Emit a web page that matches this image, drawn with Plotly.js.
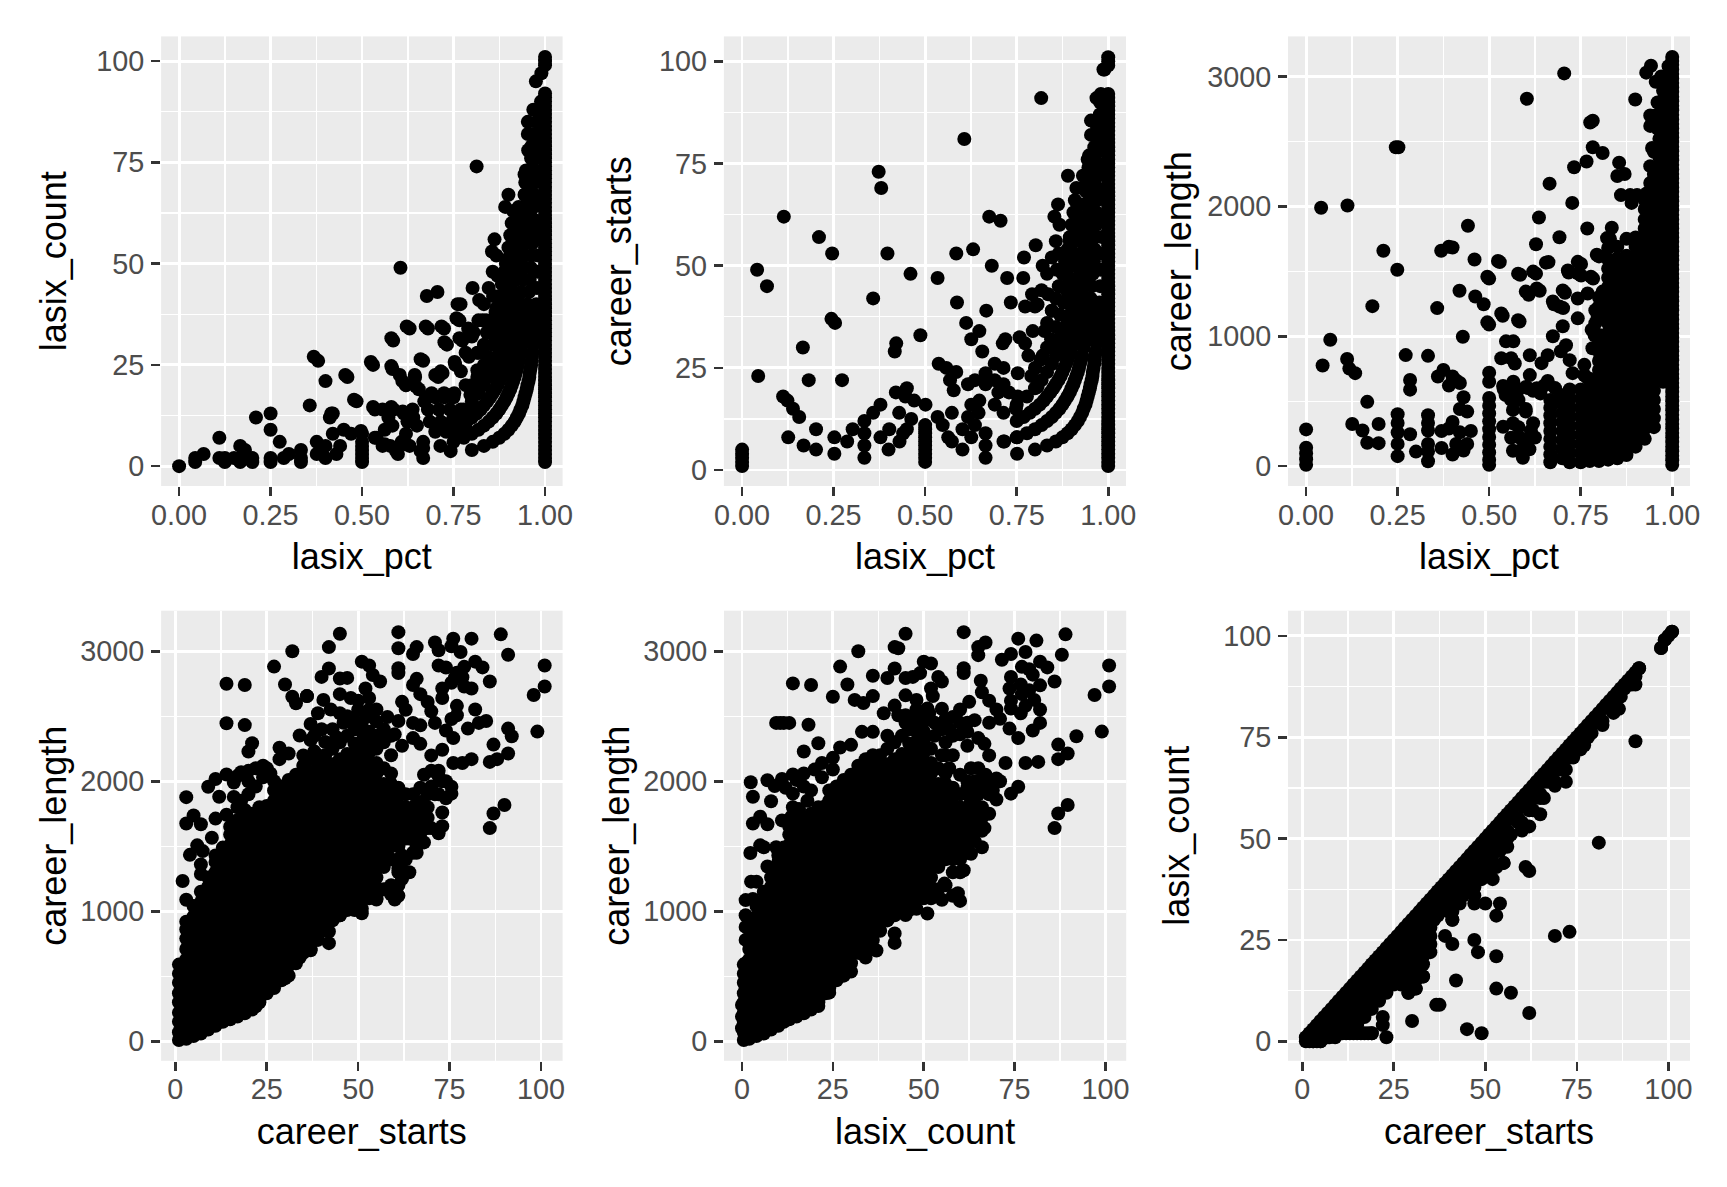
<!DOCTYPE html>
<html><head><meta charset="utf-8">
<script src="https://cdn.plot.ly/plotly-3.0.1.min.js"></script>
<style>html,body{margin:0;padding:0;background:#fff}#chart{width:1727px;height:1187px}</style>
</head><body><div id="chart"></div>
<script>
// ---- values shared by the pct/count/starts panels: [count, starts, pct]
const band1=[[4,5,.8],[5,6,.833],[6,7,.857],[7,8,.875],[8,9,.889],[9,10,.9],[10,11,.909],[11,12,.917],[12,13,.923],[13,14,.929],[14,15,.933],[15,16,.938],[16,17,.941],[17,18,.944],[18,19,.947],[19,20,.95],[20,21,.952],[21,22,.955],[22,23,.957],[23,24,.958],[24,25,.96],[25,26,.962],[26,27,.963],[27,28,.964],[28,29,.966],[30,31,.968],[32,33,.97],[34,35,.971],[36,37,.973],[38,39,.974],[40,41,.976],[44,45,.978],[48,49,.98],[52,53,.981],[56,57,.983],[60,61,.984],[66,67,.985],[72,73,.986],[78,79,.987],[84,85,.988],[90,91,.989],[97,98,.99]];
const band2=[[5,7,.714],[6,8,.75],[7,9,.778],[8,10,.8],[9,11,.818],[10,12,.833],[11,13,.846],[12,14,.857],[13,15,.867],[14,16,.875],[15,17,.882],[16,18,.889],[17,19,.895],[18,20,.9],[19,21,.905],[20,22,.909],[21,23,.913],[22,24,.917],[23,25,.92],[24,26,.923],[25,27,.926],[26,28,.929],[28,30,.933],[30,32,.938],[32,34,.941],[34,36,.944],[36,38,.947],[38,40,.95],[40,42,.952],[43,45,.956],[46,48,.958],[49,51,.961],[52,54,.963],[55,57,.965],[58,60,.967],[61,63,.968],[64,66,.97],[67,69,.971],[70,72,.972],[73,75,.973],[76,78,.974],[79,81,.975],[82,84,.976],[85,87,.977],[88,90,.978]];
const band3=[[9,12,.75],[10,13,.769],[11,14,.786],[12,15,.8],[13,16,.813],[14,17,.824],[15,18,.833],[16,19,.842],[17,20,.85],[18,21,.857],[19,22,.864],[20,23,.87],[21,24,.875],[22,25,.88],[23,26,.885],[24,27,.889],[25,28,.893],[26,29,.897],[27,30,.9],[29,32,.906],[31,34,.912],[33,36,.917],[35,38,.921],[37,40,.925],[40,43,.93],[43,46,.935],[46,49,.939],[49,52,.942],[52,55,.945],[55,58,.948],[58,61,.951],[61,64,.953],[64,67,.955],[67,70,.957],[70,73,.959],[73,76,.961],[76,79,.962],[79,82,.963],[82,85,.965]];
const band4=[[12,16,.75],[14,18,.778],[16,20,.8],[18,22,.818],[20,24,.833],[22,26,.846],[24,28,.857],[26,30,.867],[28,32,.875],[30,34,.882],[32,36,.889],[34,38,.895],[36,40,.9],[38,42,.905],[40,44,.909],[43,47,.915],[46,50,.92],[49,53,.925],[52,56,.929],[55,59,.932],[58,62,.935],[61,65,.938],[64,68,.941],[67,71,.944],[70,74,.946],[73,77,.948]];
const band5=[[20,25,.8],[22,27,.815],[25,30,.833],[27,32,.844],[30,35,.857],[33,38,.868],[36,41,.878],[39,44,.886],[42,47,.894],[45,50,.9],[48,53,.906],[51,56,.911],[54,59,.915],[57,62,.919],[60,65,.923]];
const band6=[[30,36,.833],[33,39,.846],[36,42,.857],[39,45,.867],[42,48,.875],[45,51,.882],[48,54,.889],[51,57,.895],[54,60,.9],[57,63,.905],[60,66,.909],[63,69,.913]];
const band8=[[32,40,.8],[36,44,.818],[40,48,.833],[44,52,.846],[48,56,.857],[52,60,.867]];
const allStarters=[[1,1,1],[2,2,1],[3,3,1],[4,4,1],[5,5,1],[6,6,1],[7,7,1],[8,8,1],[9,9,1],[10,10,1],[11,11,1],[12,12,1],[13,13,1],[14,14,1],[15,15,1],[16,16,1],[17,17,1],[18,18,1],[19,19,1],[20,20,1],[21,21,1],[22,22,1],[23,23,1],[24,24,1],[25,25,1],[26,26,1],[27,27,1],[28,28,1],[29,29,1],[30,30,1],[31,31,1],[32,32,1],[33,33,1],[34,34,1],[35,35,1],[36,36,1],[37,37,1],[38,38,1],[39,39,1],[40,40,1],[41,41,1],[42,42,1],[43,43,1],[44,44,1],[45,45,1],[46,46,1],[47,47,1],[48,48,1],[49,49,1],[50,50,1],[51,51,1],[52,52,1],[53,53,1],[54,54,1],[55,55,1],[56,56,1],[57,57,1],[58,58,1],[59,59,1],[60,60,1],[61,61,1],[62,62,1],[63,63,1],[64,64,1],[65,65,1],[66,66,1],[67,67,1],[68,68,1],[69,69,1],[70,70,1],[71,71,1],[72,72,1],[73,73,1],[74,74,1],[75,75,1],[76,76,1],[77,77,1],[78,78,1],[79,79,1],[80,80,1],[81,81,1],[82,82,1],[83,83,1],[84,84,1],[85,85,1],[86,86,1],[87,87,1],[88,88,1],[89,89,1],[90,90,1],[91,91,1],[92,92,1],[99,99,1],[100,100,1],[101,101,1]];
// ---- panel 1: lasix_pct vs lasix_count, separate points [pct,count]
const pctCountPts=[[0,0],[.044,2],[.044,1],[.067,3],[.11,7],[.11,2],[.125,2],[.125,1],[.15,2],[.167,5],[.167,2],[.167,1],[.18,4],[.2,2],[.2,1],[.21,12],[.25,13],[.25,9],[.275,6],[.25,2],[.25,1],[.286,2],[.3,3],[.333,4],[.333,2],[.333,1],[.357,15],[.368,27],[.38,26],[.4,21],[.376,6],[.376,3],[.4,5],[.4,2],[.42,13],[.412,12],[.42,8],[.43,3],[.46,22],[.485,16],[.45,9],[.44,5],[.47,8],[.5,8],[.5,6],[.5,5],[.5,4],[.5,3],[.5,2],[.5,1],[.53,25],[.535,14],[.556,14],[.586,14],[.583,24],[.585,31],[.605,49],[.63,34],[.61,21],[.62,20],[.645,22],[.655,19],[.667,26],[.677,42],[.706,43],[.68,34],[.724,34],[.732,30],[.708,22],[.72,23],[.69,18],[.724,18],[.752,18],[.769,40],[.766,36],[.802,44],[.82,41],[.79,34],[.805,33],[.774,31],[.813,74],[.891,64],[.928,64],[.9,67],[.945,67],[.862,56],[.855,53],[.893,50],[.87,47],[.907,46],[.858,42],[.891,40],[.865,38],[.839,36],[.841,33],[.85,35],[.886,31],[.818,28],[.792,27],[.755,25],[.54,7],[.556,5],[.577,5],[.598,3],[.572,12],[.583,10],[.614,13],[.638,14],[.624,11],[.62,8],[.608,6],[.63,5],[.667,6],[.667,4.5],[.667,2],[.67,16],[.761,40],[.758,36.5],[.829,36],[.875,32],[.85,26],[.897,29],[.783,28],[.815,28],[.753,25.7],[.77,23.4],[.815,23.7],[.783,20],[.842,23.4],[.796,17.6],[.675,17],[.7,17],[.725,17],[.75,17],[.68,14],[.71,14],[.74,14],[.77,14],[.79,14],[.685,11],[.715,11],[.745,11],[.775,11],[.7,8.5],[.73,8.5],[.76,8.5],[.79,8.5],[.66,3.7],[.742,3.7],[.593,3.7],[.62,5.4],[.562,5.4],[.535,7],[.562,9],[.625,11],[.611,13.5],[.64,12],[.65,10],[.497,8.7],[.416,13],[.454,22.5],[.478,16.4],[.524,25.7],[.58,24.7],[.66,26.4],[.603,22.5],[.644,22.5],[.715,23.4],[.7,22.5],[.647,19.7],[.62,20],[.53,14.6],[.58,14.6],[.725,30.6],[.58,31.6],[.766,31.6],[.622,34.5],[.674,34.5],[.717,34.5],[.968,88],[.953,85],[.953,82],[.954,78],[.944,72],[.965,60],[.96,56],[.928,53],[.907,50],[.926,42],[.92,38],[.905,36],[.93,33],[.91,31],[.975,95]];
// ---- panel 2: lasix_pct vs career_starts, separate points [pct,starts]
const pctStartsPts=[[0,5],[0,4],[0,3],[0,2],[0,1],[.041,49],[.068,45],[.044,23],[.114,62],[.112,18],[.124,17],[.139,15],[.156,13],[.126,8],[.168,6],[.202,10],[.202,5],[.166,30],[.182,22],[.21,57],[.246,53],[.273,22],[.244,37],[.254,36],[.252,8],[.252,4],[.287,7],[.302,10],[.334,12],[.334,9],[.334,6],[.334,3],[.358,14],[.378,16],[.378,8],[.402,10],[.4,5],[.358,42],[.373,73],[.38,69],[.397,53],[.417,29],[.421,31],[.429,14],[.42,19],[.45,20],[.446,18],[.47,17],[.501,16],[.46,48],[.487,33],[.462,12.5],[.45,10],[.44,9],[.43,7],[.5,11],[.5,10],[.5,9],[.5,8],[.5,7],[.5,6],[.5,5],[.5,4],[.5,3],[.5,2],[.534,47],[.537,26],[.558,25],[.585,24],[.568,22],[.578,19.5],[.573,14],[.534,13],[.548,11],[.563,8],[.573,7],[.602,5],[.602,10],[.626,8],[.617,13],[.636,11],[.646,14],[.626,16],[.648,17],[.585,53],[.587,41],[.612,36],[.626,32],[.648,34],[.656,29],[.631,54],[.607,81],[.682,50],[.675,62],[.706,61],[.667,39],[.712,31],[.719,32],[.724,47],[.734,41],[.817,91],[.77,52],[.768,47],[.802,55],[.821,50],[.86,49],[.863,65],[.853,62],[.865,53],[.895,56],[.89,72],[.929,69],[.931,72],[.947,71],[.9,51],[.758,32.5],[.773,31],[.794,34],[.826,34],[.792,43],[.773,40],[.807,40.5],[.836,43],[.865,45],[.89,45],[.846,39],[.904,40],[.885,35],[.87,32.5],[.86,29],[.782,28],[.821,28],[.846,26],[.802,25],[.79,23],[.807,20.4],[.69,26],[.714,25],[.753,23.7],[.665,23.7],[.617,21],[.636,22],[.665,21],[.69,22],[.714,21],[.7,19],[.729,19],[.753,18],[.748,15],[.714,14],[.69,16],[.665,9],[.665,6],[.665,3],[.716,7],[.751,4],[.751,8],[.953,85.5],[.953,82],[.968,91],[.953,75.6],[.944,76],[.963,77.5],[.987,98],[.98,92],[.97,84],[.92,62],[.935,58],[.915,50],[.93,45],[.925,40],[.91,36],[.93,33]];
// ---- panel 3: lasix_pct vs career_length, separate points [pct,length]
const pctLengthPts=[[0,283],[0,141],[0,97],[0,53],[0,10],[.041,1989],[.113,2007],[.066,973],[.045,775],[.112,825],[.118,751],[.134,716],[.167,495],[.126,324],[.154,274],[.167,180],[.198,324],[.198,177],[.211,1659],[.181,1232],[.249,1512],[.245,2455],[.252,2455],[.272,855],[.284,663],[.284,589],[.284,245],[.3,112],[.25,400],[.25,333],[.25,259],[.25,171],[.25,77],[.333,849],[.333,392],[.333,333],[.333,274],[.333,171],[.333,112],[.333,38],[.358,1217],[.369,1659],[.39,1689],[.4,1683],[.419,1350],[.442,1851],[.46,1591],[.462,1306],[.485,1247],[.428,996],[.5,1090],[.5,1444],[.529,1571],[.537,1158],[.583,1114],[.585,1473],[.628,1482],[.628,1709],[.636,1915],[.603,2829],[.705,3024],[.665,2175],[.727,2027],[.692,1762],[.662,1571],[.608,1320],[.638,1350],[.707,1335],[.677,1247],[.702,1217],[.717,1491],[.751,1556],[.751,1468],[.784,1444],[.768,1830],[.8,1615],[.822,1756],[.835,1836],[.732,2302],[.766,2346],[.783,2455],[.81,2411],[.776,2646],[.783,2660],[.855,2337],[.85,2234],[.87,2249],[.86,2087],[.885,2087],[.904,2087],[.889,2027],[.899,2823],[.929,3030],[.942,3083],[.495,1458],[.579,1482],[.62,1498],[.715,1506],[.742,1573],[.742,1484],[.778,1458],[.794,1628],[.524,1580],[.655,1567],[.6,1344],[.63,1368],[.701,1353],[.674,1268],[.692,1229],[.742,1291],[.769,1329],[.81,1344],[.818,1268],[.533,1176],[.495,1107],[.579,1123],[.742,1138],[.796,1138],[.701,1077],[.674,1000],[.71,931],[.696,885],[.66,854],[.643,793],[.72,816],[.728,716],[.611,701],[.611,854],[.546,961],[.566,961],[.533,831],[.56,831],[.57,790],[.769,678],[.788,1008],[.782,908],[.804,831],[.538,617],[.566,650],[.606,601],[.66,655],[.68,601],[.696,548],[.545,548],[.565,433],[.6,440],[.5,720],[.5,650],[.5,525],[.5,465],[.5,405],[.5,345],[.5,285],[.5,225],[.5,165],[.5,105],[.5,50],[.5,10],[.538,303],[.56,218],[.565,119],[.592,65],[.614,272],[.625,220],[.584,218],[.565,330],[.667,510],[.667,450],[.667,390],[.667,330],[.667,270],[.667,210],[.667,150],[.667,90],[.667,30],[.7,480],[.7,410],[.7,340],[.7,270],[.7,200],[.7,130],[.7,60],[.62,580],[.64,560],[.36,690],[.375,740],[.39,620],[.4,690],[.41,660],[.42,640],[.43,530],[.42,440],[.44,420],[.4,340],[.37,270],[.39,290],[.42,260],[.45,270],[.37,140],[.4,90],[.43,120],[.44,170],[.41,170],[.54,590],[.56,510],[.58,590],[.6,610],[.63,600],[.65,620],[.56,600],[.58,510],[.6,420],[.62,330],[.6,200],[.61,130],[.58,300],[.59,130],[.76,700],[.76,780],[.79,1100],[.79,1200],[.8,1300],[.83,1750],[.78,1050]];
// ---- panels 4 and 5: columns shared through career_length
const denseStarts=[1,3,5,7,9,11,13,15,17,19,21,23,25,27,29,31,33,35,37,39,41,43,45,47,49,51,53,55,57,59,61,63,65,67,69];
const denseCounts=[.5,2,4,6,8,10,11.5,13,15,17,19,21,23,24,26,28,30,32,34,36,38,40,42,44,46,48,50,52,54,56,58,60,62,63,65];
const denseLengths=[
[10,70,150,220,300,370,450,520,590],
[20,90,170,250,320,400,480,560,630,710,790,860,920],
[40,110,190,270,350,430,510,590,660,740,810,890,960,1040],
[60,140,220,300,380,450,530,610,690,760,840,920,990,1070,1150],
[90,170,250,330,410,480,560,640,720,800,870,950,1030,1110,1190,1260],
[120,200,280,360,440,520,600,670,750,830,910,990,1070,1140,1220,1300,1380,1430],
[150,230,310,390,470,550,620,700,780,860,940,1020,1100,1170,1250,1330,1410,1490],
[170,250,330,410,490,570,650,730,800,880,960,1040,1120,1200,1280,1360,1430,1510,1590,1650],
[190,270,350,430,510,590,670,750,830,910,990,1070,1150,1230,1310,1390,1470,1550,1620,1700],
[215,290,370,450,530,610,690,770,850,930,1010,1090,1170,1250,1330,1410,1490,1570,1650,1720],
[245,320,400,480,560,640,720,800,880,960,1040,1120,1200,1280,1360,1440,1520,1600,1680,1750],
[300,375,455,535,615,695,775,855,935,1015,1095,1175,1255,1335,1415,1495,1575,1655,1735,1800],
[370,450,530,610,690,770,850,930,1010,1090,1170,1250,1330,1410,1490,1570,1650,1730,1810],
[410,490,570,650,730,810,890,970,1050,1130,1210,1290,1370,1450,1530,1610,1690,1770,1850,1930],
[470,550,630,710,790,870,950,1030,1110,1190,1270,1350,1430,1510,1590,1670,1750,1830,1910,1960],
[505,585,665,745,825,905,985,1065,1145,1225,1305,1385,1465,1545,1625,1705,1785,1865,1945,2010],
[600,680,760,840,920,1000,1080,1160,1240,1320,1400,1480,1560,1640,1720,1800,1880,1960,2050],
[680,760,840,920,1000,1080,1160,1240,1320,1400,1480,1560,1640,1720,1800,1880,1960,2040,2120],
[710,790,870,950,1030,1110,1190,1270,1350,1430,1510,1590,1670,1750,1830,1910,1990,2070,2170],
[780,860,940,1020,1100,1180,1260,1340,1420,1500,1580,1660,1740,1820,1900,1980,2060,2140,2200],
[850,930,1010,1090,1170,1250,1330,1410,1490,1570,1650,1730,1810,1890,1970,2050,2130,2200],
[930,1010,1090,1170,1250,1330,1410,1490,1570,1650,1730,1810,1890,1970,2050,2130,2250],
[970,1050,1130,1210,1290,1370,1450,1530,1610,1690,1770,1850,1930,2010,2090,2170,2300],
[1010,1090,1170,1250,1330,1410,1490,1570,1650,1730,1810,1890,1970,2050,2130,2210,2350],
[1010,1090,1170,1250,1330,1410,1490,1570,1650,1730,1810,1890,1970,2050,2130,2210,2290,2400],
[1020,1100,1180,1260,1340,1420,1500,1580,1660,1740,1820,1900,1980,2060,2140,2220,2300,2380,2450],
[1100,1180,1260,1340,1420,1500,1580,1660,1740,1820,1900,1980,2060,2140,2220,2300,2380,2500],
[1100,1180,1260,1340,1420,1500,1580,1660,1740,1820,1900,1980,2060,2140,2250],
[1170,1340,1420,1500,1580,1660,1740,1820,1900,1980,2100],
[1200,1400,1500,1580,1660,1740,1820,1900,1980,2060,2200],
[1120,1300,1400,1500,1580,1660,1740,1820,1900,1950],
[1300,1400,1560,1640,1720,1800,1900],
[1450,1560,1640,1720,1800,1900],
[1600,1680,1760,1840,1950],
[1640,1720,1800,1900]];
// ---- panel 4: career_starts vs career_length, separate points
const startsLengthPts=[[3,1878],[3,1675],[9,1958],[11,2017],[14,2052],[12,1881],[5,1737],[7,1669],[10,1566],[11,1713],[14,1743],[4,1434],[6,1507],[7.5,1463],[7,1360],[7,1287],[2,1233],[3,1089],[14,2750],[19,2741],[14,2446],[19,2432],[21,2293],[20,2229],[27,2882],[32,3000],[30,2744],[32,2650],[33,2600],[36,2655],[42,3032],[45,3135],[42,2867],[40,2803],[45,2790],[47,2795],[51,2920],[53,2890],[54,2817],[56,2767],[61,3147],[61,3023],[61,2870],[61,2832],[66,3032],[65,2979],[71,3067],[72,3008],[76,3097],[81,3097],[89,3130],[91,2973],[101,2891],[101,2729],[98,2664],[99,2382],[86,2767],[84,2876],[82,2920],[87,2282],[91,2405],[92,2346],[91,2214],[86,2149],[88,2170],[81,2170],[90,1817],[87,1752],[86,1640],[75.5,1905],[75.5,1958],[73,1655],[66,2788],[65,2740],[67,2670],[69,2610],[70,2538],[62,2611],[63,2550],[58,2494],[60,2361],[61,2464],[65,2449],[67,2430],[65,2332],[67,2288],[62,2273],[70,2199],[73,2243],[76,2332],[74,2390],[71,2449],[75.5,2479],[77,2508],[77,2580],[73,2640],[73,2714],[75.5,2758],[76.5,2800],[79,2729],[81,2714],[82,2552],[80,2405],[85,2464],[83,2449],[75.5,3038],[78,2994],[72,2890],[74,2875],[77,2835],[79,2880],[78.5,2800],[76,2140],[78.5,2140],[70,2081],[72,2081],[36,2655],[40.5,2626],[42.5,2552],[45,2523],[45,2670],[48,2640],[52,2714],[53,2640],[55,2552],[52,2523],[49,2464],[39,2523],[37,2440],[34,2352],[37,2317],[41,2302],[35,2199],[38,2230],[28.5,2258],[31,2214],[28.5,2170],[68,2050],[73,2000],[71,1900],[73,1760],[67,1780],[68,1660],[66,1500],[64,1560],[62,1430],[59,1500],[56,1490],[61,1330],[62,1250],[60,1090],[59,1130],[55,1090],[51,985],[45,970],[42,845],[42,755],[37,700],[34,645],[30,485],[24,375],[22,270],[15,200],[61,1200],[50,1100],[49,1080],[48,1150],[47,1240],[53,1380],[57,1440],[64,1300],[16,1990],[17,2040],[18,2070],[20,2080],[22,2100],[24,2120],[25,2100],[26,2060],[27,2000],[28,1960],[24,2030],[16,1880],[18,1850],[20,1900],[22,1960],[20,2000],[17,1800],[19,1780],[72,1900],[74,1870],[70,1960],[72,2040],[74,2000],[66,1450],[68,1530],[70,1640],[72,1600],[50,2550],[50,2620],[53,2550],[55,2460],[57,2400],[59,2350],[55,2350],[57,2300],[47,2500],[46,2450],[43,2400],[40,2400],[38,2350],[44,2340]];
// ---- panel 5: lasix_count vs career_length, separate points
const countLengthPts=[[2.4,1993],[3,1881],[3,1675],[5,1728],[7,2008],[7,1669],[9,1964],[8,1846],[11,2017],[14,2052],[14,1905],[11,1699],[13.6,1728],[15.7,1787],[2.3,1448],[5,1507],[6,1493],[9.4,1493],[7,1345],[2.5,1228],[1,1086],[4,1228],[3,1095],[14,2753],[19,2741],[9.4,2449],[10.5,2449],[11.5,2449],[13,2449],[18.3,2435],[21,2293],[17,2229],[27,2882],[25,2650],[29,2744],[32,3000],[31,2626],[33.4,2602],[36,2655],[36,2812],[40,2794],[42,2867],[42,3032],[43,3023],[45,3135],[45,2794],[47,2803],[49,2832],[50,2920],[52,2906],[54,2803],[55,2767],[52,2714],[52.5,2655],[45,2661],[48,2626],[42,2582],[39,2523],[43,2508],[45,2508],[48,2552],[51.5,2523],[55,2558],[61,3147],[61,2870],[61,2832],[67,3067],[65,3032],[65,2970],[65.7,2773],[66,2685],[68,2620],[62.5,2611],[60,2552],[58,2494],[70,2552],[60,2361],[65,2332],[66.7,2288],[62,2273],[73.6,2405],[76,2332],[74,2803],[73.6,2714],[76.7,2744],[77,2670],[81,3082],[76,3097],[71.5,2935],[74,2979],[78,2994],[79,2862],[82,2920],[84,2876],[82,2738],[86,2767],[80.4,2626],[82,2552],[76.7,2523],[82,2449],[80,2390],[88,2973],[89,3130],[101,2891],[101,2729],[97,2664],[99,2382],[92,2346],[87,2282],[89.6,2214],[87,2170],[78,2140],[81.5,2149],[76,1958],[74,1905],[70,1860],[89.6,1817],[87,1752],[86,1640],[66.7,1640],[63,1566],[66,1493],[63,1443],[61,1316],[59.4,1139],[60,1080],[55,1089],[55.7,1213],[51,983],[45,972],[42,830],[42,757],[37,698],[34,645],[30,536],[24,374],[21,271],[15,197],[72.5,2140],[68,2199],[70,2022],[62,2450],[64,2470],[68,2450],[71,2480],[74,2560],[77,2880],[80,2820],[79,2700],[78,2580],[74,2620],[57,1420],[60,1420],[55,1410],[52,1390],[0,100],[0,190],[0,280],[1,320],[1,420],[1,600],[1,780],[1,880],[1,970],[45,2450],[47,2400],[50,2460],[51,2560],[48,2480],[53,2450],[40,2350],[36,2380],[33,2380],[30,2280],[27,2260],[25,2180],[22,2140],[20,2090],[17,2060],[15,2010],[17,1960],[19,1930],[22,2030],[25,2090],[12,1950],[14,1800],[18,1850],[20,1750],[57,2100],[55,2200],[60,2050],[62,1950],[64,1880],[66,1800],[66,1720],[68,1900],[60,1500],[57,1490],[53,1490],[50,1440],[55,1560],[58,1650],[62,2000],[58,2200],[56,2300],[67,1950],[69,1930],[71,2000],[67,2050],[65,2100],[63,2100],[68,1750],[66,1620],[64,1540],[62,1480],[60,1600],[65,2000],[68,2000],[64,2000],[57,2400],[55,2400],[58,2350],[56,2480],[53,2350],[50,2380],[60,2450],[62,2380]];
// ---- panel 6: career_starts vs lasix_count, columns below the diagonal
const triStarts=[3,5,7,9,11,13,15,17,19,21,23,25,27,29,31,33,35,37,39,41,43,45,47,49,51,53,55];
const triCounts=[[0,1,2],[0,1,2,3,4],[1,3,5],[1,3,5,7],[2,4,6,8],[2,4,6,8,10],[2,4,6,8,10,12],[2,6,8,10,12,14],[2,8,10,12,14,16],[10,12,14,16,18],[12,14,16,18,20],[14,16,18,20,22],[14,16,18,20,22,24],[12,14,16,19,21,23,25],[13,15,17,19,21,23,25,27],[16,19,21,23,25,27,29],[22,24,26,28,30,32],[31,33],[34],[30,32,35,37],[34,36,38],[37,39,41],[38,40,42],[40,42,44],[42,45,47],[43,47,49],[44,48,51]];
const startsCountPts=[[1,0],[2,0],[3,0],[4,0],[5,0],[7.5,1],[10,2],[12,2],[14,2],[16,2],[18,2],[19,2],[22,6],[22,4],[23,1],[39,26],[41,24],[47,25],[48,22],[53,21],[42,15],[53,13],[57,12],[62,7],[45,3],[49,2],[30,5],[36.6,9],[37.5,9],[29,12],[31,13],[33,16],[69,26],[73,27],[81,49],[91,74],[62,42],[61,43],[53,31],[54,34],[50,34],[47,36],[47,34],[41,30],[65,56],[62,53],[52,40],[49,41],[55,44],[54,47],[56,50],[59,54],[69,64],[72,64],[72,67],[76,72],[78,75],[82,78],[85,81],[86.5,82],[91,88],[88,87],[92,92],[98,97],[99,99],[101,101],[39,33],[44,38],[47,41],[52,46],[63.5,60]];
// ---- panel 3: dense columns on the right
const denseLenPct=[.72,.75,.775,.8,.825,.85,.875,.9,.925,.95,.975,1];
const denseLenVals=[
[30,100,170,240,310,380,450,520,590],
[30,100,170,240,310,380,450,520,590],
[40,110,180,250,320,390,460,530,600,670],
[40,110,180,250,320,390,460,530,600,670,740,810,880,950,1010,1230],
[50,120,190,260,330,400,470,540,610,680,750,820,890,960,1030,1100,1170,1240,1310,1380,1450,1520,1590,1680],
[60,130,200,270,340,410,480,550,620,690,760,830,900,970,1040,1110,1180,1250,1320,1390,1460,1530,1600,1690],
[85,150,220,290,360,430,500,570,640,710,780,850,920,990,1060,1130,1200,1270,1340,1410,1480,1550,1620,1750],
[150,220,290,360,430,500,570,640,710,780,850,920,990,1060,1130,1200,1270,1340,1410,1480,1550,1620,1690,1760],
[210,290,360,430,500,570,640,710,780,850,920,990,1060,1130,1200,1270,1340,1410,1480,1550,1620,1690,1760,1830,1900,1980],
[300,370,440,510,580,650,720,790,860,930,1000,1070,1140,1210,1280,1350,1420,1490,1560,1630,1700,1770,1840,1910,1980,2050,2120,2190,2250,2640,2420],
[650,720,790,860,930,1000,1070,1140,1210,1280,1350,1420,1490,1560,1630,1700,1770,1840,1910,1980,2050,2120,2190,2260,2330,2400,2470,2540,2610,2680,2750,2820,2890,2960],
[10,45,80,115,150,185,220,255,290,325,360,395,430,465,500,535,570,605,640,675,710,745,780,815,850,885,920,955,990,1025,1060,1095,1130,1165,1200,1235,1270,1305,1340,1375,1410,1445,1480,1515,1550,1585,1620,1655,1690,1725,1760,1795,1830,1865,1900,1935,1970,2005,2040,2075,2110,2145,2180,2215,2250,2285,2320,2355,2390,2425,2460,2495,2530,2565,2600,2635,2670,2705,2740,2775,2810,2845,2880,2915,2950,2985,3020,3055,3090,3120,3150]];
const denseLenExtra=[[.99,1000],[.99,1100],[.99,1200],[.99,1700],[.99,1900],[.99,2100],[.99,2300],[.99,2500],[.99,2700],[.99,2900],[.99,3000],[.99,3080],[.985,2600],[.985,2700],[.985,2800],[.96,2300],[.96,2450],[.96,2600],[.96,2800],[.955,2960],[.97,3000],[.945,2450],[.94,2620],[.94,2700],[.955,2700],[.93,2100],[.925,2050],[.94,2180],[.94,2310],[.965,2380],[.965,2520],[.965,2680]];

// ---- tick labels
const pctTicks=[0,.25,.5,.75,1], pctLabels=['0.00','0.25','0.50','0.75','1.00'];
const hundredTicks=[0,25,50,75,100], hundredLabels=['0','25','50','75','100'];
const lengthTicks=[0,1000,2000,3000], lengthLabels=['0','1000','2000','3000'];

const first=(r,i)=>r.map(v=>v[i]);
const unrollX=(xs,ls)=>xs.flatMap((x,i)=>ls[i].map(()=>x));
const unrollY=ls=>ls.flat();
const bands=[band8,band6,band5,band4,band3,band2,band1,allStarters];
const bandCol=i=>bands.flatMap(b=>first(b,i));

const panels=[
 {x:[...bandCol(2),...first(pctCountPts,0)], y:[...bandCol(0),...first(pctCountPts,1)], xt:'lasix_pct', yt:'lasix_count', kx:'pct', ky:'count', px:[161.1,562.6], py:[36.4,486], xr:[-.0492,1.048], yr:[-4.9,106.1], so:18},
 {x:[...bandCol(2),...first(pctStartsPts,0)], y:[...bandCol(1),...first(pctStartsPts,1)], xt:'lasix_pct', yt:'career_starts', kx:'pct', ky:'count', px:[723.9,1126], py:[36.4,486], xr:[-.0497,1.0486], yr:[-3.9,106.1], so:16},
 {x:[...unrollX(denseLenPct,denseLenVals),...first(denseLenExtra,0),...first(pctLengthPts,0)], y:[...unrollY(denseLenVals),...first(denseLenExtra,1),...first(pctLengthPts,1)], xt:'lasix_pct', yt:'career_length', kx:'pct', ky:'len', px:[1288,1690], py:[36.4,486], xr:[-.0495,1.0486], yr:[-153,3309], so:4},
 {x:[...unrollX(denseStarts,denseLengths),...first(startsLengthPts,0)], y:[...unrollY(denseLengths),...first(startsLengthPts,1)], xt:'career_starts', yt:'career_length', kx:'n', ky:'len', px:[161.1,562.6], py:[610.7,1060.8], xr:[-3.88,105.9], yr:[-150,3312], so:2},
 {x:[...unrollX(denseCounts,denseLengths),...first(countLengthPts,0)], y:[...unrollY(denseLengths),...first(countLengthPts,1)], xt:'lasix_count', yt:'career_length', kx:'n', ky:'len', px:[724,1126.2], py:[610.7,1060.8], xr:[-4.95,105.7], yr:[-150,3312], so:2},
 {x:[...bandCol(1),...unrollX(triStarts,triCounts),...first(startsCountPts,0)], y:[...bandCol(0),...unrollY(triCounts),...first(startsCountPts,1)], xt:'career_starts', yt:'lasix_count', kx:'n', ky:'count', px:[1288,1690], py:[610.7,1060.8], xr:[-3.88,105.9], yr:[-4.8,106.2], so:22}
];
const W=1727,H=1187;
const tickSets={pct:[pctTicks,pctLabels,.125],n:[hundredTicks,hundredLabels,12.5],count:[hundredTicks,hundredLabels,12.5],len:[lengthTicks,lengthLabels,500]};
const tickFont={family:'"Liberation Sans",Arial,sans-serif',size:28.8,color:'#4D4D4D'};
const titleFont={family:'"Liberation Sans",Arial,sans-serif',size:36,color:'#000'};
function axis(set,title,domain,range,standoff,labelShift){
  const [vals,labels,minor]=tickSets[set];
  return {domain,range,tickmode:'array',tickvals:vals,ticktext:labels,tickfont:tickFont,
    title:{text:title,font:titleFont,standoff},ticklabelstandoff:labelShift,
    ticks:'outside',ticklen:9,tickwidth:2.6,tickcolor:'#333333',
    showgrid:true,gridcolor:'#FFFFFF',gridwidth:2.8,zeroline:false,showline:false,
    minor:{dtick:minor,tick0:0,showgrid:true,gridcolor:'#FFFFFF',gridwidth:1.4,ticks:''},
    automargin:false,fixedrange:true};
}
const layout={width:W,height:H,margin:{l:0,r:0,t:0,b:0},paper_bgcolor:'#fff',plot_bgcolor:'#EBEBEB',showlegend:false,font:{family:'"Liberation Sans",Arial,sans-serif'}};
const traces=panels.map((p,i)=>{
  const s=i?String(i+1):'';
  layout['xaxis'+s]=Object.assign(axis(p.kx,p.xt,[p.px[0]/W,p.px[1]/W],p.xr,14,-6),{anchor:'y'+s});
  layout['yaxis'+s]=Object.assign(axis(p.ky,p.yt,[1-p.py[1]/H,1-p.py[0]/H],p.yr,p.so,1),{anchor:'x'+s});
  return {type:'scatter',mode:'markers',x:p.x,y:p.y,xaxis:'x'+s,yaxis:'y'+s,
    marker:{size:14,color:'#000',line:{width:0}},hoverinfo:'skip'};
});
Plotly.newPlot('chart',traces,layout,{displayModeBar:false,staticPlot:true});
</script></body></html>
